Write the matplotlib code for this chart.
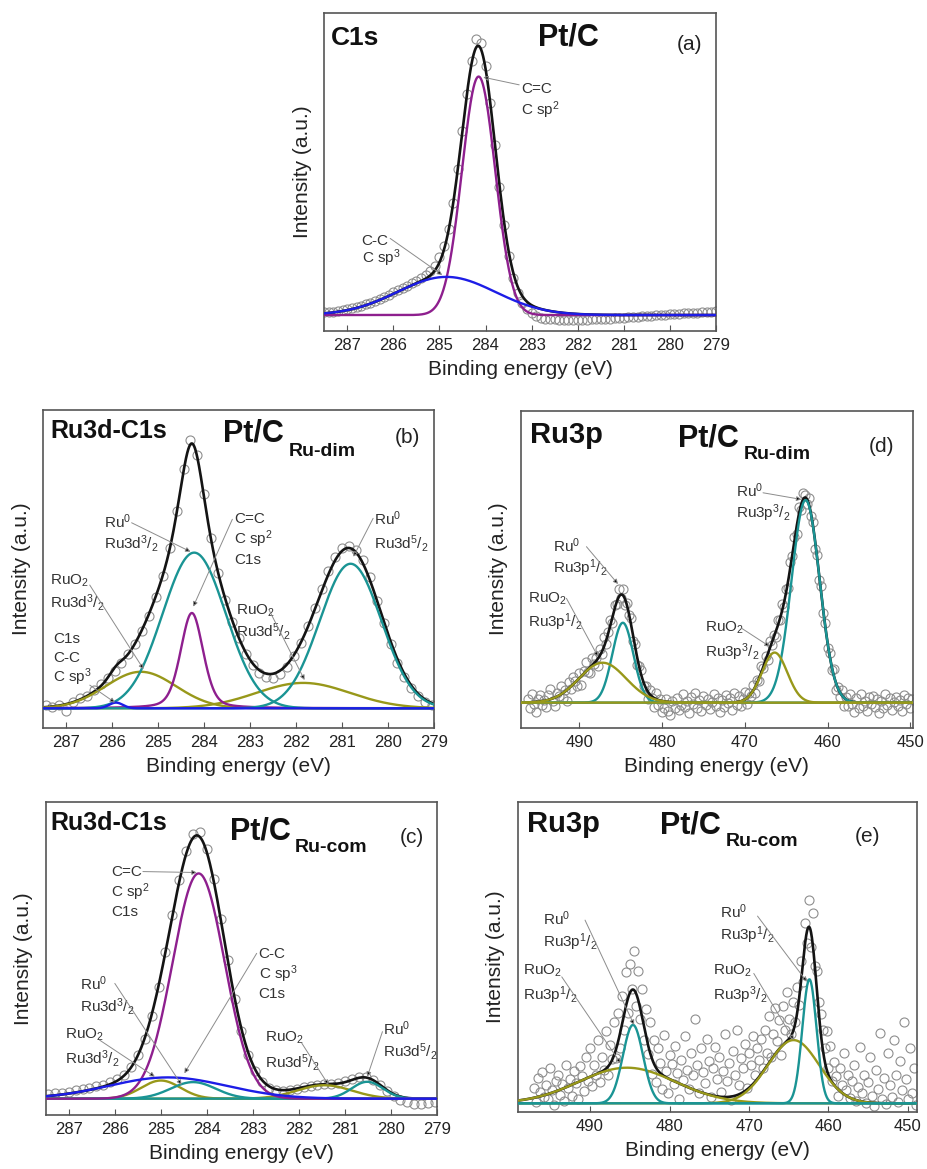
import numpy as np
import matplotlib
matplotlib.use("Agg")
import matplotlib.pyplot as plt

plt.rcParams.update({
    "font.family": ["Liberation Sans", "DejaVu Sans"],
    "mathtext.fontset": "custom",
    "mathtext.rm": "Liberation Sans",
    "mathtext.it": "Liberation Sans:italic",
    "mathtext.bf": "Liberation Sans:bold",
})

# ---------------- spectra (measured points) and fitted peak parameters ----------------
# (a) C1s of Pt/C, 0.1 eV steps
a_start, a_step = 287.5, 0.1
a_counts = [0.059, 0.060, 0.061, 0.063, 0.065, 0.068, 0.071, 0.075, 0.079, 0.084,
            0.089, 0.095, 0.101, 0.107, 0.114, 0.121, 0.128, 0.135, 0.142, 0.150,
            0.158, 0.166, 0.176, 0.189, 0.205, 0.231, 0.266, 0.322, 0.402, 0.508,
            0.629, 0.746, 0.850, 0.918, 0.905, 0.832, 0.716, 0.585, 0.452, 0.333,
            0.236, 0.166, 0.118, 0.088, 0.068, 0.055, 0.047, 0.042, 0.039, 0.037,
            0.036, 0.035, 0.035, 0.034, 0.034, 0.034, 0.035, 0.035, 0.036, 0.036,
            0.037, 0.038, 0.039, 0.040, 0.041, 0.042, 0.043, 0.044, 0.045, 0.046,
            0.047, 0.048, 0.049, 0.050, 0.051, 0.052, 0.053, 0.054, 0.055, 0.056,
            0.057, 0.058, 0.059, 0.060, 0.061, 0.062]
a_baseline = 0.05
a_center = [284.15, 284.85]          # C=C sp2, C-C sp3
a_height = [0.75, 0.12]
a_fwhm = [0.85, 2.5]
a_lfrac = [0.0, 0.0]

# (b) Ru3d-C1s of Pt/C Ru-dim, 0.15 eV steps
b_start, b_step = 287.45, 0.15
b_counts = [0.070, 0.064, 0.072, 0.052, 0.081, 0.092, 0.101, 0.118, 0.136, 0.156,
            0.180, 0.205, 0.231, 0.262, 0.303, 0.352, 0.410, 0.478, 0.566, 0.683,
            0.815, 0.905, 0.858, 0.735, 0.598, 0.488, 0.402, 0.334, 0.281, 0.232,
            0.197, 0.172, 0.160, 0.158, 0.170, 0.192, 0.226, 0.268, 0.320, 0.377,
            0.436, 0.492, 0.538, 0.566, 0.571, 0.560, 0.527, 0.473, 0.398, 0.328,
            0.262, 0.205, 0.160, 0.125, 0.100, 0.082, 0.072]
b_baseline = 0.061
# Ru0 3d3/2, C=C, RuO2 3d3/2, RuO2 3d5/2, Ru0 3d5/2, C-C
b_center = [284.22, 284.27, 285.38, 281.85, 280.82, 285.92]
b_height = [0.49, 0.30, 0.115, 0.08, 0.455, 0.018]
b_fwhm = [1.62, 0.58, 1.8, 2.4, 1.58, 0.35]
b_lfrac = [0.0, 0.3, 0.0, 0.0, 0.0, 0.0]

# (c) Ru3d-C1s of Pt/C Ru-com, 0.15 eV steps
c_start, c_step = 287.45, 0.15
c_counts = [0.068, 0.070, 0.071, 0.074, 0.079, 0.082, 0.086, 0.091, 0.097, 0.104,
            0.114, 0.128, 0.153, 0.190, 0.244, 0.316, 0.410, 0.520, 0.638, 0.750,
            0.842, 0.896, 0.902, 0.848, 0.752, 0.626, 0.494, 0.371, 0.268, 0.192,
            0.140, 0.106, 0.087, 0.079, 0.077, 0.079, 0.083, 0.088, 0.092, 0.096,
            0.098, 0.100, 0.103, 0.108, 0.115, 0.121, 0.122, 0.113, 0.095, 0.076,
            0.060, 0.048, 0.040, 0.036, 0.035, 0.038, 0.042]
c_baseline = 0.052
# RuO2 3d3/2, Ru0 3d3/2, C=C, RuO2 3d5/2, Ru0 3d5/2, C-C
c_center = [285.0, 284.3, 284.18, 281.45, 280.52, 284.85]
c_height = [0.058, 0.053, 0.719, 0.043, 0.054, 0.068]
c_fwhm = [1.0, 1.15, 1.33, 1.4, 0.8, 3.0]
c_lfrac = [0.0, 0.0, 0.0, 0.0, 0.0, 0.0]

# (d) Ru3p of Pt/C Ru-dim, 0.25 eV steps
d_start, d_step = 496.25, 0.25
d_counts = [0.092, 0.062, 0.105, 0.076, 0.051, 0.090, 0.103, 0.072, 0.088, 0.064,
            0.103, 0.122, 0.084, 0.070, 0.108, 0.099, 0.133, 0.094, 0.120, 0.084,
            0.143, 0.121, 0.159, 0.147, 0.130, 0.171, 0.135, 0.179, 0.207, 0.177,
            0.173, 0.220, 0.200, 0.221, 0.195, 0.248, 0.233, 0.285, 0.263, 0.301,
            0.340, 0.329, 0.388, 0.389, 0.438, 0.409, 0.436, 0.388, 0.394, 0.354,
            0.346, 0.274, 0.263, 0.197, 0.195, 0.181, 0.132, 0.133, 0.089, 0.119,
            0.095, 0.064, 0.111, 0.072, 0.092, 0.048, 0.062, 0.092, 0.054, 0.041,
            0.085, 0.062, 0.095, 0.055, 0.071, 0.105, 0.066, 0.085, 0.047, 0.097,
            0.075, 0.109, 0.062, 0.088, 0.053, 0.100, 0.073, 0.091, 0.059, 0.082,
            0.106, 0.068, 0.095, 0.050, 0.087, 0.064, 0.102, 0.077, 0.093, 0.056,
            0.111, 0.072, 0.101, 0.070, 0.091, 0.113, 0.075, 0.110, 0.101, 0.134,
            0.108, 0.151, 0.146, 0.195, 0.189, 0.225, 0.214, 0.274, 0.260, 0.292,
            0.285, 0.339, 0.341, 0.390, 0.382, 0.437, 0.441, 0.523, 0.541, 0.603,
            0.612, 0.696, 0.688, 0.739, 0.734, 0.706, 0.724, 0.669, 0.650, 0.565,
            0.545, 0.466, 0.446, 0.361, 0.331, 0.250, 0.235, 0.182, 0.185, 0.119,
            0.129, 0.097, 0.119, 0.067, 0.098, 0.070, 0.107, 0.076, 0.050, 0.093,
            0.061, 0.107, 0.069, 0.085, 0.054, 0.096, 0.076, 0.100, 0.065, 0.089,
            0.046, 0.084, 0.062, 0.105, 0.071, 0.093, 0.057, 0.082, 0.098, 0.067,
            0.087, 0.052, 0.103, 0.074, 0.094, 0.061, 0.090]
d_baseline = 0.079
# Ru0 3p1/2, RuO2 3p1/2, Ru0 3p3/2, RuO2 3p3/2
d_center = [484.75, 487.2, 462.65, 466.4]
d_height = [0.252, 0.126, 0.639, 0.158]
d_fwhm = [3.0, 6.7, 4.0, 3.6]
d_lfrac = [0.0, 0.0, 0.0, 0.0]

# (e) Ru3p of Pt/C Ru-com, 0.25 eV steps
e_start, e_step = 497.0, 0.25
e_counts = [0.075, 0.030, 0.110, 0.062, 0.128, 0.048, 0.085, 0.040, 0.142, 0.071,
            0.022, 0.098, 0.120, 0.055, 0.088, 0.035, 0.150, 0.078, 0.104, 0.050,
            0.132, 0.092, 0.040, 0.146, 0.115, 0.068, 0.175, 0.098,
            0.205, 0.082, 0.150, 0.118, 0.232, 0.095, 0.178, 0.135, 0.260, 0.118,
            0.215, 0.170, 0.290, 0.172, 0.320, 0.205, 0.372, 0.265, 0.452, 0.318,
            0.478, 0.395, 0.520, 0.340, 0.455, 0.298, 0.395, 0.232, 0.330, 0.185,
            0.288, 0.122, 0.232, 0.095, 0.205, 0.158, 0.072, 0.248, 0.130, 0.060,
            0.182,
            0.155, 0.088, 0.212, 0.125, 0.040, 0.168, 0.102, 0.245, 0.135, 0.072,
            0.188, 0.118, 0.300, 0.150, 0.060, 0.205, 0.128, 0.092, 0.235, 0.165,
            0.048, 0.140, 0.210, 0.105, 0.175, 0.062, 0.130, 0.250, 0.098, 0.158,
            0.038, 0.195, 0.120, 0.265, 0.085, 0.172, 0.140, 0.220, 0.075, 0.190,
            0.152, 0.245, 0.118, 0.205,
            0.168, 0.235, 0.142, 0.265, 0.190, 0.310, 0.175, 0.250, 0.335, 0.228,
            0.295, 0.182, 0.340, 0.262, 0.385, 0.300, 0.250, 0.355, 0.290, 0.402,
            0.345, 0.485, 0.420, 0.610, 0.545, 0.682, 0.530, 0.640, 0.470, 0.455,
            0.355, 0.315, 0.262, 0.205, 0.260, 0.140, 0.212, 0.098, 0.160, 0.115,
            0.052, 0.140, 0.085, 0.190, 0.070, 0.118, 0.045, 0.098,
            0.150, 0.035, 0.080, 0.210, 0.060, 0.120, 0.028, 0.095, 0.175, 0.050,
            0.018, 0.135, 0.072, 0.255, 0.040, 0.110, 0.025, 0.190, 0.085, 0.048,
            0.230, 0.120, 0.030, 0.165, 0.070, 0.290, 0.105, 0.040, 0.205, 0.060,
            0.140, 0.022]
e_baseline = 0.027
# RuO2 3p1/2, Ru0 3p1/2, RuO2 3p3/2, Ru0 3p3/2
e_center = [485.35, 484.6, 464.4, 462.4]
e_height = [0.115, 0.253, 0.204, 0.40]
e_fwhm = [14.3, 3.0, 7.6, 2.1]
e_lfrac = [0.0, 0.0, 0.0, 0.0]

c1s_ticks = [287, 286, 285, 284, 283, 282, 281, 280, 279]
ru3p_ticks = [490, 480, 470, 460, 450]

# ---------------- styling ----------------
INK = "#141414"
PURPLE = "#8e1f8e"
BLUE = "#1d1de6"
TEAL = "#1a9494"
OLIVE = "#98981a"
MARK = "#8e8e8e"
FRAME = "#555555"
NOTE = "#333333"

fig = plt.figure(figsize=(9.27, 11.69), dpi=100)


def profile(x, center, height, fwhm, lfrac):
    d = x - center
    gauss = np.exp(-4.0 * np.log(2.0) * d ** 2 / fwhm ** 2)
    lorentz = 1.0 / (1.0 + 4.0 * d ** 2 / fwhm ** 2)
    return height * ((1.0 - lfrac) * gauss + lfrac * lorentz)


def panel(rect, start, step, counts, baseline, center, height, fwhm, lfrac,
          colors, order, xlim, xticks):
    ax = fig.add_axes(rect)
    counts = np.asarray(counts)
    energy = start - step * np.arange(len(counts))
    grid = np.linspace(xlim[0], xlim[1], 1500)
    parts = [profile(grid, c, h, w, f) for c, h, w, f in zip(center, height, fwhm, lfrac)]
    envelope = baseline + np.sum(parts, axis=0)

    ax.plot(energy, counts, "o", ms=6.5, mfc="none", mec=MARK, mew=0.8, zorder=1)
    ax.plot(grid, envelope, color=INK, lw=1.9, zorder=2)
    for i in order:
        ax.plot(grid, baseline + parts[i], color=colors[i], lw=1.7, zorder=3)

    ax.set_xlim(*xlim)
    ax.set_ylim(0, 1)
    ax.set_xticks(xticks)
    ax.set_yticks([])
    ax.tick_params(axis="x", direction="in", length=4, width=0.8, color=FRAME,
                   labelsize=12, pad=5, labelcolor="#222222")
    for sp in ax.spines.values():
        sp.set_color(FRAME)
        sp.set_linewidth(1.2)
    ax.set_xlabel("Binding energy (eV)", fontsize=15, labelpad=5, color="#222222")
    ax.set_ylabel("Intensity (a.u.)", fontsize=15, labelpad=9, color="#222222")
    return ax


def heading(ax, core, core_xy, core_size, sample_xy, sub, sub_xy, tag, tag_xy):
    ax.text(*core_xy, core, transform=ax.transAxes, fontsize=core_size,
            fontweight="bold", va="baseline", color="#111111")
    ax.text(*sample_xy, "Pt/C", transform=ax.transAxes, fontsize=22,
            fontweight="bold", va="baseline", color="#111111")
    if sub:
        ax.text(*sub_xy, sub, transform=ax.transAxes, fontsize=14,
                fontweight="bold", va="baseline", color="#111111")
    ax.text(*tag_xy, tag, transform=ax.transAxes, fontsize=15,
            va="baseline", color="#222222")


def callout(ax, lines, x, ys, start, tip):
    for s, y in zip(lines, ys):
        ax.text(x, y, s, fontsize=11, color=NOTE, va="baseline", ha="left", zorder=5)
    ax.annotate("", xy=tip, xytext=start,
                arrowprops=dict(arrowstyle="-|>", lw=0.7, ec="#8c8c8c", fc="black",
                                mutation_scale=7, shrinkA=0, shrinkB=0), zorder=6)


# ---- (a)
ax_a = panel([0.3498, 0.7169, 0.4225, 0.2720], a_start, a_step, a_counts, a_baseline,
             a_center, a_height, a_fwhm, a_lfrac, [PURPLE, BLUE], [0, 1],
             (287.5, 279.0), c1s_ticks)
heading(ax_a, "C1s", (0.016, 0.899), 19, (0.546, 0.899), None, None, "(a)", (0.90, 0.884))
callout(ax_a, ["C=C", "C sp$^2$"], 283.23, [0.747, 0.679], (283.27, 0.774), (284.05, 0.798))
callout(ax_a, ["C-C", "C sp$^3$"], 286.69, [0.270, 0.213], (286.07, 0.291), (284.94, 0.176))

# ---- (b)
ax_b = panel([0.0467, 0.3775, 0.4218, 0.2718], b_start, b_step, b_counts, b_baseline,
             b_center, b_height, b_fwhm, b_lfrac,
             [TEAL, PURPLE, OLIVE, OLIVE, TEAL, BLUE], [2, 3, 1, 0, 4, 5],
             (287.5, 279.0), c1s_ticks)
heading(ax_b, "Ru3d-C1s", (0.017, 0.911), 18, (0.46, 0.90), "Ru-dim", (0.627, 0.855),
        "(b)", (0.899, 0.895))
callout(ax_b, ["Ru$^0$", "Ru3d$^3$/$_2$"], 286.18, [0.628, 0.565], (285.58, 0.645), (284.30, 0.554))
callout(ax_b, ["C=C", "C sp$^2$", "C1s"], 283.35, [0.643, 0.577, 0.514], (283.39, 0.656), (284.24, 0.381))
callout(ax_b, ["RuO$_2$", "Ru3d$^3$/$_2$"], 287.36, [0.449, 0.378], (286.49, 0.449), (285.32, 0.184))
callout(ax_b, ["C1s", "C-C", "C sp$^3$"], 287.29, [0.266, 0.208, 0.145], (286.49, 0.134), (285.94, 0.079))
callout(ax_b, ["RuO$_2$", "Ru3d$^5$/$_2$"], 283.30, [0.355, 0.286], (282.59, 0.370), (281.82, 0.150))
callout(ax_b, ["Ru$^0$", "Ru3d$^5$/$_2$"], 280.30, [0.638, 0.565], (280.33, 0.659), (280.76, 0.538))

# ---- (d)
ax_d = panel([0.5617, 0.3775, 0.4229, 0.2712], d_start, d_step, d_counts, d_baseline,
             d_center, d_height, d_fwhm, d_lfrac, [TEAL, OLIVE, TEAL, OLIVE], [0, 2, 1, 3],
             (497.1, 449.7), ru3p_ticks)
heading(ax_d, "Ru3p", (0.024, 0.897), 21, (0.402, 0.886), "Ru-dim", (0.568, 0.847),
        "(d)", (0.887, 0.871))
callout(ax_d, ["Ru$^0$", "Ru3p$^1$/$_2$"], 493.19, [0.555, 0.487], (489.15, 0.571), (485.33, 0.453))
callout(ax_d, ["RuO$_2$", "Ru3p$^1$/$_2$"], 496.21, [0.394, 0.319], (491.57, 0.408), (487.75, 0.224))
callout(ax_d, ["Ru$^0$", "Ru3p$^3$/$_2$"], 471.02, [0.729, 0.661], (467.8, 0.741), (463.16, 0.720))
callout(ax_d, ["RuO$_2$", "Ru3p$^3$/$_2$"], 474.85, [0.303, 0.224], (470.41, 0.314), (466.99, 0.256))

# ---- (c)
ax_c = panel([0.0493, 0.0462, 0.4224, 0.2680], c_start, c_step, c_counts, c_baseline,
             c_center, c_height, c_fwhm, c_lfrac,
             [OLIVE, TEAL, PURPLE, OLIVE, TEAL, BLUE], [0, 3, 1, 4, 2, 5],
             (287.5, 279.0), c1s_ticks)
heading(ax_c, "Ru3d-C1s", (0.013, 0.91), 18, (0.471, 0.878), "Ru-com", (0.637, 0.84),
        "(c)", (0.905, 0.867))
callout(ax_c, ["C=C", "C sp$^2$", "C1s"], 286.08, [0.763, 0.695, 0.635], (285.39, 0.777), (284.22, 0.774))
callout(ax_c, ["C-C", "C sp$^3$", "C1s"], 282.88, [0.500, 0.433, 0.374], (282.92, 0.516), (284.49, 0.133))
callout(ax_c, ["Ru$^0$", "Ru3d$^3$/$_2$"], 286.75, [0.399, 0.330], (286.0, 0.420), (284.55, 0.096))
callout(ax_c, ["RuO$_2$", "Ru3d$^3$/$_2$"], 287.09, [0.245, 0.163], (286.33, 0.239), (285.13, 0.122))
callout(ax_c, ["RuO$_2$", "Ru3d$^5$/$_2$"], 282.74, [0.234, 0.152], (281.94, 0.229), (281.36, 0.096))
callout(ax_c, ["Ru$^0$", "Ru3d$^5$/$_2$"], 280.17, [0.255, 0.186], (280.19, 0.266), (280.52, 0.122))

# ---- (e)
ax_e = panel([0.5585, 0.0490, 0.4304, 0.2652], e_start, e_step, e_counts, e_baseline,
             e_center, e_height, e_fwhm, e_lfrac, [OLIVE, TEAL, OLIVE, TEAL], [0, 2, 1, 3],
             (499.1, 448.9), ru3p_ticks)
heading(ax_e, "Ru3p", (0.023, 0.903), 21, (0.357, 0.898), "Ru-com", (0.522, 0.857),
        "(e)", (0.845, 0.871))
callout(ax_e, ["Ru$^0$", "Ru3p$^1$/$_2$"], 495.96, [0.602, 0.532], (490.63, 0.618), (484.46, 0.280))
callout(ax_e, ["RuO$_2$", "Ru3p$^1$/$_2$"], 498.4, [0.441, 0.360], (493.56, 0.435), (486.14, 0.156))
callout(ax_e, ["Ru$^0$", "Ru3p$^1$/$_2$"], 473.63, [0.624, 0.554], (468.93, 0.631), (462.71, 0.419))
callout(ax_e, ["RuO$_2$", "Ru3p$^3$/$_2$"], 474.55, [0.441, 0.360], (469.4, 0.446), (464.36, 0.231))

fig.savefig("out.png", dpi=100)
